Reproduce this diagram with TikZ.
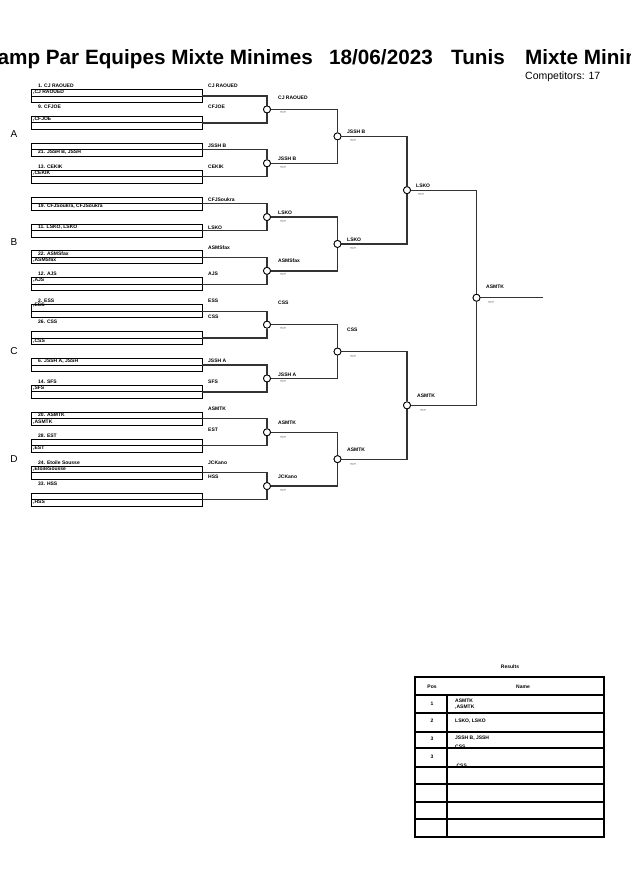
\documentclass[tikz,border=0pt]{standalone}
\usepackage{fontspec}
\setmainfont{Liberation Sans}
\begin{document}
\begin{tikzpicture}[x=1pt,y=-1pt,
  box/.style={draw=black,line width=0.9pt,minimum width=171pt,minimum height=13pt,inner sep=0pt,outer sep=0pt},
  mcirc/.style={circle,draw=black,line width=0.8pt,fill=white,minimum size=7pt,inner sep=0pt},
  conn/.style={draw=black!80,line width=1.3pt},
  lbl/.style={font=\fontsize{5}{5}\selectfont\bfseries,inner sep=0pt,anchor=west},
  score/.style={font=\fontsize{4}{4}\selectfont\bfseries,inner sep=0pt,anchor=west},
  pool/.style={font=\fontsize{10}{10}\selectfont,inner sep=0pt},
  ttl/.style={font=\fontsize{20.7}{20.7}\selectfont\bfseries,inner sep=0pt},
  tline/.style={draw=black,line width=1.4pt}]
\useasboundingbox (0,0) rectangle (630,891);
\clip (0,0) rectangle (630,891);
% title (cut off at both edges, as in the reference)
\node[ttl,anchor=base east] (t1) at (313,64) {Champ Par Equipes Mixte Minimes};
\node[ttl,anchor=base west] (t2) at (329,64) {18/06/2023};
\node[ttl,anchor=base west] (t3) at (451,64) {Tunis};
\node[ttl,anchor=base west] (t4) at (525,64) {Mixte Minimes};
\node[font=\fontsize{10.5}{10.5}\selectfont,inner sep=0pt,anchor=base west] (comp) at (525,79) {Competitors: 17};
% pools
\node[pool] (pA) at (14,134) {A};
\node[pool] (pB) at (14,242) {B};
\node[pool] (pC) at (14,351) {C};
\node[pool] (pD) at (14,459) {D};
% boxes
\foreach \k/\y in {1/96,2/122.9,3/149.8,4/176.7,5/203.6,6/230.5,7/257.4,8/284.3,9/311.2,10/338.1,11/365.0,12/391.9,13/418.8,14/445.7,15/472.6,16/499.5}{
  \node[box] (b\k) at (116.5,\y) {};
  \draw[line width=0.9pt] (b\k.west) -- (b\k.east);
}
% match circles
\node[mcirc] (m1) at (267,109.45) {};
\node[mcirc] (m2) at (267,163.25) {};
\node[mcirc] (m3) at (267,217.05) {};
\node[mcirc] (m4) at (267,270.85) {};
\node[mcirc] (m5) at (267,324.65) {};
\node[mcirc] (m6) at (267,378.45) {};
\node[mcirc] (m7) at (267,432.25) {};
\node[mcirc] (m8) at (267,486.05) {};
\node[mcirc] (m9) at (337.5,136.35) {};
\node[mcirc] (m10) at (337.5,243.95) {};
\node[mcirc] (m11) at (337.5,351.55) {};
\node[mcirc] (m12) at (337.5,459.15) {};
\node[mcirc] (m13) at (407,190.15) {};
\node[mcirc] (m14) at (407,405.35) {};
\node[mcirc] (m15) at (476.5,297.75) {};
\coordinate (fin) at (543,297.75);
% connectors
\foreach \a/\b/\m in {1/2/1,3/4/2,5/6/3,7/8/4,9/10/5,11/12/6,13/14/7,15/16/8}{
  \draw[conn] (b\a.east) -| (m\m.north);
  \draw[conn] (b\b.east) -| (m\m.south);
}
\foreach \a/\b/\m in {1/2/9,3/4/10,5/6/11,7/8/12,9/10/13,11/12/14,13/14/15}{
  \draw[conn] (m\a.east) -| (m\m.north);
  \draw[conn] (m\b.east) -| (m\m.south);
}
\draw[conn] (m15.east) -- (fin);
% redraw circles on top
\foreach \m in {1,...,15}{ \draw[line width=0.8pt,fill=white] (m\m) circle (3.5pt); }
% entry texts
\node[lbl] (e1a) at (38,86) {1. CJ RAOUED};
\node[lbl] (e1b) at (33,92) {,CJ RAOUED};
\node[lbl] (e2a) at (38,107) {9. CFJOE};
\node[lbl] (e2b) at (33,119) {,CFJOE};
\node[lbl] (e3a) at (38,152.5) {21. JSSH B, JSSH};
\node[lbl] (e4a) at (38,167) {13. CEKIK};
\node[lbl] (e4b) at (33,173) {,CEKIK};
\node[lbl] (e5a) at (38,206.5) {19. CFJSoukra, CFJSoukra};
\node[lbl] (e6a) at (38,227.5) {11. LSKO, LSKO};
\node[lbl] (e7a) at (38,253.5) {22. ASMSfax};
\node[lbl] (e7b) at (33,260) {,ASMSfax};
\node[lbl] (e8a) at (38,274) {12. AJS};
\node[lbl] (e8b) at (33,280.5) {,AJS};
\node[lbl] (e9a) at (38,300.5) {2. ESS};
\node[lbl] (e9b) at (33,305.5) {,ESS};
\node[lbl] (e10a) at (38,322) {26. CSS};
\node[lbl] (e10b) at (33,341.5) {,CSS};
\node[lbl] (e11a) at (38,361) {6. JSSH A, JSSH};
\node[lbl] (e12a) at (38,382) {14. SFS};
\node[lbl] (e12b) at (33,388.5) {,SFS};
\node[lbl] (e13a) at (38,415) {20. ASMTK};
\node[lbl] (e13b) at (33,422) {,ASMTK};
\node[lbl] (e14a) at (38,436) {28. EST};
\node[lbl] (e14b) at (33,448.5) {,EST};
\node[lbl] (e15a) at (38,463) {24. Etoile Sousse};
\node[lbl] (e15b) at (33,469.5) {,EtoileSousse};
\node[lbl] (e16a) at (38,484) {33. HSS};
\node[lbl] (e16b) at (33,502.5) {,HSS};
% right labels
\node[lbl] (r1) at (208,86) {CJ RAOUED};
\node[lbl] (r2) at (208,107) {CFJOE};
\node[lbl] (r3) at (208,146) {JSSH B};
\node[lbl] (r4) at (208,167) {CEKIK};
\node[lbl] (r5) at (208,200) {CFJSoukra};
\node[lbl] (r6) at (208,228) {LSKO};
\node[lbl] (r7) at (208,248) {ASMSfax};
\node[lbl] (r8) at (208,274) {AJS};
\node[lbl] (r9) at (208,301) {ESS};
\node[lbl] (r10) at (208,317) {CSS};
\node[lbl] (r11) at (208,361) {JSSH A};
\node[lbl] (r12) at (208,382) {SFS};
\node[lbl] (r13) at (208,409) {ASMTK};
\node[lbl] (r14) at (208,430) {EST};
\node[lbl] (r15) at (208,463) {JCKano};
\node[lbl] (r16) at (208,477) {HSS};
% winners and scores
\foreach \n/\x/\y/\t in {w1/278/98/CJ RAOUED,w2/278/158.5/JSSH B,w3/278/213/LSKO,w4/278/261/ASMSfax,w5/278/303/CSS,w6/278/375/JSSH A,w7/278/423/ASMTK,w8/278/477/JCKano,w9/347/132/JSSH B,w10/347/240/LSKO,w11/347/330/CSS,w12/347/450/ASMTK,w13/416/186/LSKO,w14/417/396/ASMTK,w15/486/287/ASMTK}{
  \node[lbl] (\n) at (\x,\y) {\t};
}
\foreach \n/\x/\y in {s1/280/112.5,s2/280/167.5,s3/280/221,s4/280/274,s5/280/328,s6/280/381,s7/280/437,s8/280/490,s9/350/140,s10/350/248,s11/350/356,s12/350/464,s13/418/194,s14/420/410,s15/488/302}{
  \node[score] (\n) at (\x,\y) {--:--};
}
% results table
\node[lbl,anchor=center] (res) at (510,667) {Results};
\draw[line width=2.2pt] (415,677) rectangle (604,837);
\foreach \y in {695,713,732,748,767,784,802,819}{ \draw[tline] (415,\y) -- (604,\y); }
\draw[line width=1.2pt] (447,695) -- (447,837);
\node[lbl,anchor=center] (hpos) at (432,687) {Pos};
\node[lbl,anchor=center] (hname) at (523,687) {Name};
\node[lbl,anchor=center] (p1) at (432,704) {1};
\node[lbl] (n1a) at (455,701) {ASMTK};
\node[lbl] (n1b) at (455,707.5) {,ASMTK};
\node[lbl,anchor=center] (p2) at (432,721) {2};
\node[lbl] (n2) at (455,721) {LSKO, LSKO};
\node[lbl,anchor=center] (p3) at (432,739) {3};
\node[lbl] (n3a) at (455,738.5) {JSSH B, JSSH};
\node[lbl] (n3b) at (455,746.5) {CSS};
\node[lbl,anchor=center] (p4) at (432,757) {3};
\node[lbl] (n4) at (455,766) {,CSS};
\end{tikzpicture}
\end{document}
